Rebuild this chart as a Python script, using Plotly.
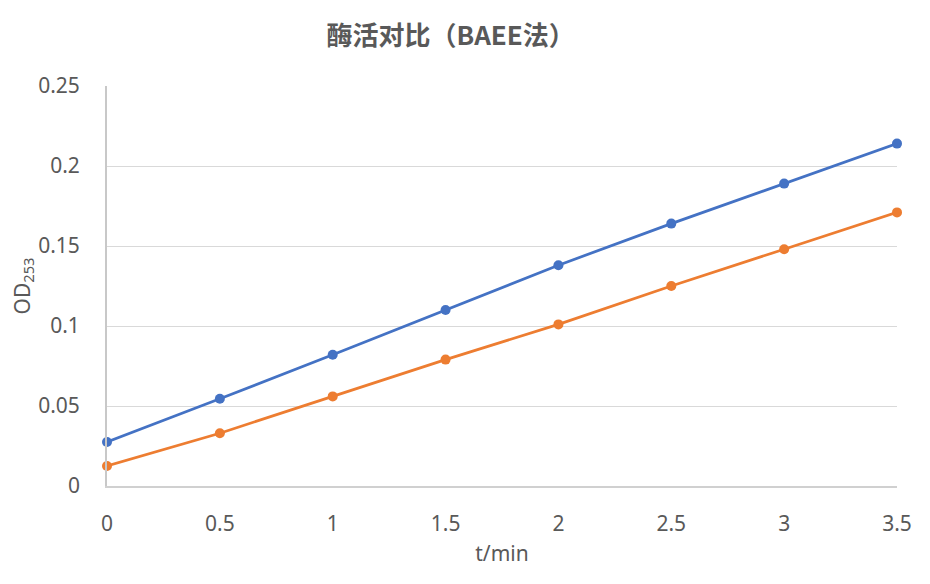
import plotly.graph_objects as go

t_min = [0, 0.5, 1, 1.5, 2, 2.5, 3, 3.5]
series_a = [0.0275, 0.0545, 0.082, 0.110, 0.138, 0.164, 0.189, 0.214]
series_b = [0.0125, 0.033, 0.056, 0.079, 0.101, 0.125, 0.148, 0.171]
x_ticks = [0, 0.5, 1, 1.5, 2, 2.5, 3, 3.5]
x_tick_labels = ["0", "0.5", "1", "1.5", "2", "2.5", "3", "3.5"]
y_ticks = [0, 0.05, 0.1, 0.15, 0.2, 0.25]
y_tick_labels = ["0", "0.05", "0.1", "0.15", "0.2", "0.25"]

gray = "#595959"
fig = go.Figure()
fig.add_trace(go.Scatter(x=t_min, y=series_a, mode="lines+markers",
                         line=dict(color="#4472C4", width=2.75),
                         marker=dict(color="#4472C4", size=10),
                         cliponaxis=False, showlegend=False))
fig.add_trace(go.Scatter(x=t_min, y=series_b, mode="lines+markers",
                         line=dict(color="#ED7D31", width=2.75),
                         marker=dict(color="#ED7D31", size=10),
                         cliponaxis=False, showlegend=False))

fig.update_layout(
    width=930, height=584,
    paper_bgcolor="white", plot_bgcolor="white",
    margin=dict(l=99, r=41, t=78, b=106),
    font=dict(family="Noto Sans, Noto Sans CJK SC", size=21, color=gray),
    title=dict(text="<b>酶活对比（BAEE法）</b>", x=0.476, xanchor="center",
               y=0.952, yanchor="middle",
               font=dict(family="Noto Sans CJK SC", size=26, color=gray)),
    xaxis=dict(range=[0, 3.5], tickvals=x_ticks, ticktext=x_tick_labels,
               showgrid=False, zeroline=False, showline=True, automargin=False,
               linecolor="#d0d0d0", linewidth=1.5, ticks="",
               ticklabelstandoff=18, tickfont=dict(size=21, color=gray),
               title=dict(text="t/min", standoff=10, font=dict(size=21, color=gray))),
    yaxis=dict(range=[0, 0.25], tickvals=y_ticks, ticktext=y_tick_labels,
               showgrid=True, gridcolor="#d9d9d9", gridwidth=1.3, automargin=False,
               zeroline=False, showline=True, linecolor="#c8c8c8", linewidth=1.8,
               ticks="", ticklabelstandoff=21, tickfont=dict(size=21, color=gray),
               title=dict(text="OD<sub>253</sub>", standoff=11, font=dict(size=21, color=gray))),
)
fig.write_html("out.html")
